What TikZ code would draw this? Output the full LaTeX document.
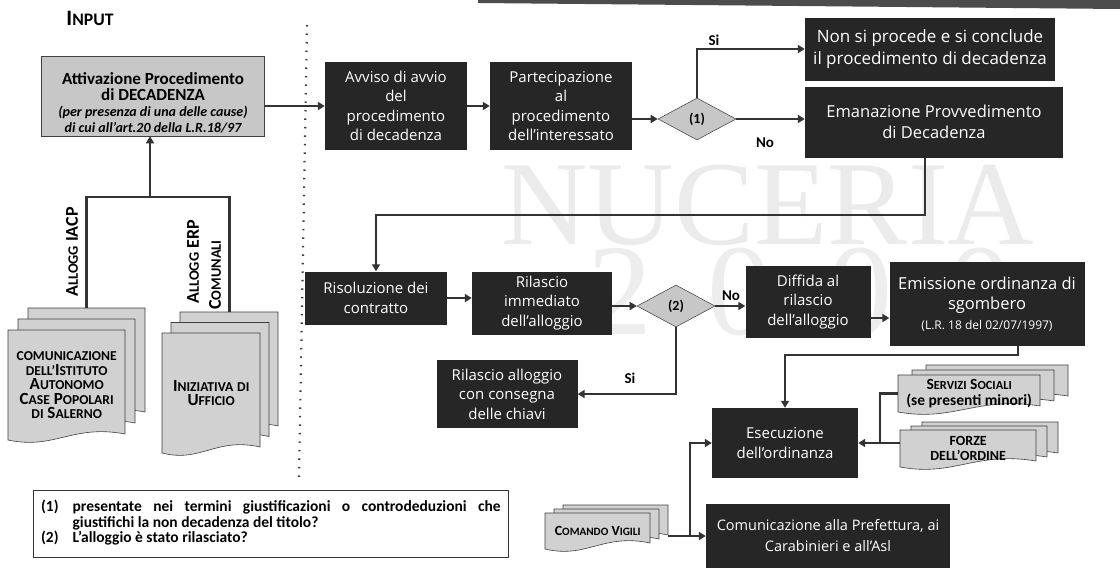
\documentclass[tikz,border=0pt]{standalone}
\usepackage{fontspec}
\setmainfont{Carlito}
\newfontfamily\osans{Open Sans}
\newfontfamily\wmserif{Liberation Serif}
\usetikzlibrary{shapes.geometric,arrows.meta}

% small capitals built from a reduced upper-case copy of the current font
\makeatletter
\newcommand\lowc[1]{{\fontsize{\fpeval{0.8*\f@size}}{\f@baselineskip}\selectfont\MakeUppercase{#1}}}
\makeatother

\tikzset{
  dark/.style={fill=black!85, text=white, align=center, inner sep=2pt,
    font=\osans\fontsize{15}{19.5}\selectfont},
  light/.style={fill=black!22, draw=black!75, line width=0.6pt},
  decision/.style={diamond, fill=black!22, draw=black!70, line width=0.6pt,
    inner sep=0, minimum width=78pt, minimum height=42pt,
    font=\bfseries\fontsize{14}{14}\selectfont},
  sheetfill/.style={fill=black!18, draw=black!75, line width=0.6pt},
  sheettext/.style={align=center, font=\bfseries\fontsize{17}{14.5}\selectfont},
  conn/.style={draw=black!80, line width=2.6pt},
  arr/.style={conn, -{Triangle[length=7pt,width=8pt]}},
  tag/.style={font=\bfseries\fontsize{15}{15}\selectfont, inner sep=1pt},
  vlabel/.style={font=\bfseries\fontsize{18}{18}\selectfont, rotate=90},
}

% one document sheet with a wavy lower edge: [options]{name}{x}{y}{w}{h}{text}
\newcommand\sheet[7][]{%
  \filldraw[sheetfill] (#3,#4) -- ({#3+#5},#4) -- ({#3+#5},{#4+#6-6})
    .. controls ({#3+0.55*#5},{#4+#6-16}) and ({#3+0.4*#5},{#4+#6+10}) .. (#3,{#4+#6}) -- cycle;
  \node[sheettext, inner sep=0, minimum width=#5pt, minimum height=#6pt,
        anchor=north west, #1] (#2) at (#3,#4) {#7};
}
% a pile of three sheets: [options]{name}{x}{y}{w}{h}{dx}{dy}{text}
\newcommand\sheetstack[9][]{%
  \sheet{#2b}{#3+2*#7}{#4-2*#8}{#5}{#6}{}
  \sheet{#2m}{#3+#7}{#4-#8}{#5}{#6}{}
  \sheet[#1]{#2}{#3}{#4}{#5}{#6}{#9}
}

\begin{document}
\begin{tikzpicture}[x=1pt,y=-1pt]
\useasboundingbox (0,0) rectangle (1120,573);
\fill[white] (0,0) rectangle (1120,573);

% header strip
\fill[black!70] (478,0) -- (1120,0) -- (1120,9) -- (478,3) -- cycle;

% watermark
\node[text=black!8, font=\wmserif\fontsize{120}{120}\selectfont, inner sep=0] (wmname) at (768,205) {NUCERIA};
\node[text=black!7, font=\wmserif\fontsize{130}{130}\selectfont, inner sep=0] (wmyear) at (800,292) {2\hspace{55pt}0\hspace{55pt}0\hspace{55pt}0};

% input column
\node[font=\bfseries\fontsize{22}{22}\selectfont] (inlabel) at (90,18) {I\lowc{nput}};
\draw[black!75, line width=2.2pt, dash pattern=on 1.5pt off 7pt] (307,25) -- (299,478);

\sheetstack{src}{8}{330}{117}{110}{10}{11}{\lowc{comunicazione}\\\lowc{dell’}I\lowc{stituto}\\A\lowc{utonomo}\\C\lowc{ase} P\lowc{opolari}\\\lowc{di} S\lowc{alerno}}
\sheetstack{own}{162}{333}{98}{120}{9}{10.5}{I\lowc{niziativa} \lowc{di}\\U\lowc{fficio}}

\node[vlabel] (lblA) at (72,252) {A\lowc{llogg} IACP};
\node[vlabel] (lblB) at (193,262) {A\lowc{llogg} ERP};
\node[vlabel] (lblC) at (215,275) {C\lowc{omunali}};

\node[light, minimum width=223pt, minimum height=80pt] (att) at (153,96) {};
\node[align=center, font=\bfseries\fontsize{17}{16}\selectfont] (atttext) at (153,103)
  {Attivazione Procedimento\\di DECADENZA\\{\itshape\fontsize{14}{15}\selectfont (per presenza di una delle cause)}\\{\itshape\fontsize{14}{15}\selectfont di cui all’art.20 della L.R.18/97}};

% procedure
\node[dark, minimum width=142pt, minimum height=88pt] (avv) at (396,106) {Avviso di avvio\\del\\procedimento\\di decadenza};
\node[dark, minimum width=142pt, minimum height=88pt] (part) at (561,106) {Partecipazione\\al\\procedimento\\dell’interessato};
\node[decision] (q1) at (697,119) {(1)};
\node[dark, minimum width=250pt, minimum height=63pt, font=\osans\fontsize{17}{22}\selectfont] (stop) at (930,49) {Non si procede e si conclude\\il procedimento di decadenza};
\node[dark, minimum width=258pt, minimum height=71pt, font=\osans\fontsize{16.5}{21}\selectfont] (decree) at (934,122) {Emanazione Provvedimento\\di Decadenza};

\node[dark, minimum width=142pt, minimum height=53pt] (resol) at (376,298) {Risoluzione dei\\contratto};
\node[dark, minimum width=140pt, minimum height=63pt] (release) at (542,303) {Rilascio\\immediato\\dell’alloggio};
\node[decision] (q2) at (676,306) {(2)};
\node[dark, minimum width=125pt, minimum height=72pt] (warn) at (808,302) {Diffida al\\rilascio\\dell’alloggio};
\node[dark, minimum width=195pt, minimum height=84pt, font=\osans\fontsize{16.5}{20}\selectfont] (evict) at (987,304) {Emissione ordinanza di\\sgombero\\{\fontsize{12}{14}\selectfont (L.R. 18 del 02/07/1997)}};
\node[dark, minimum width=141pt, minimum height=68pt] (keys) at (507,394) {Rilascio alloggio\\con consegna\\delle chiavi};
\node[dark, minimum width=146pt, minimum height=70pt] (exec) at (785,443) {Esecuzione\\dell’ordinanza};
\node[dark, minimum width=244pt, minimum height=64pt, font=\osans\fontsize{14.5}{21}\selectfont] (notify) at (828,536) {Comunicazione alla Prefettura, ai\\Carabinieri e all’Asl};

\sheetstack[font=\bfseries\fontsize{15.5}{16}\selectfont]{social}{898}{375}{142}{37}{14}{5}{S\lowc{ervizi} S\lowc{ociali}\\(se presenti minori)}
\sheetstack[font=\bfseries\fontsize{14}{15}\selectfont]{police}{900}{430}{136}{37}{11}{4}{FORZE\\DELL’ORDINE}
\sheetstack[font=\bfseries\fontsize{14}{15}\selectfont]{guards}{545}{513}{105}{36}{9}{4}{C\lowc{omando} V\lowc{igili}}

% connectors
\coordinate (hub) at (150,197);
\draw[conn] (srcb.north) |- (hub);
\draw[conn] (ownb.north) |- (hub);
\draw[arr] (hub) -- (hub |- att.south);
\draw[arr] (att.east |- avv.west) -- (avv.west);
\draw[arr] (avv.east) -- (part.west);
\draw[arr] (part.east |- q1.west) -- (q1.west);
\draw[arr] (q1.north) |- (stop.west);
\draw[arr] (q1.east) -- (q1.east -| decree.west);
\coordinate (turn1) at (925,215);
\draw[arr] (decree.south -| turn1) -- (turn1) -| (resol.north);
\draw[arr] (resol.east) -- (resol.east -| release.west);
\draw[arr] (release.east |- q2.west) -- (q2.west);
\draw[arr] (q2.east) -- (q2.east -| warn.west);
\draw[arr] (q2.south) |- (keys.east);
\draw[arr] ([yshift=-16pt]warn.east) -- ([yshift=-16pt]warn.east -| evict.west);
\coordinate (turn2) at (1018,355);
\draw[arr] (evict.south -| turn2) -- (turn2) -| (exec.north);
\coordinate (merge) at (880,443);
\draw[conn] (social.west) -| (merge);
\draw[arr] (police.west |- exec.east) -- (exec.east);
\coordinate (split) at (690,536);
\draw[arr] (guardsb.east |- notify.west) -- (notify.west);
\draw[arr] (split) |- (exec.west);

\node[tag] (yes1) at (714,40) {Si};
\node[tag] (no1) at (765,143) {No};
\node[tag] (no2) at (731,296) {No};
\node[tag] (yes2) at (630,378) {Si};

% notes
\node[draw=black!80, line width=0.7pt, fill=white, inner sep=0, minimum width=475pt, minimum height=67pt,
      anchor=north west, font=\bfseries\fontsize{15.5}{14.5}\selectfont] (notes) at (33,490)
  {\begin{tabular}{@{}l@{\hspace{14pt}}l@{}}(1)&\makebox[428pt][s]{presentate nei termini giustificazioni o controdeduzioni che}\\
   &giustifichi la non decadenza del titolo?\\(2)&L’alloggio è stato rilasciato?\end{tabular}};
\end{tikzpicture}
\end{document}
